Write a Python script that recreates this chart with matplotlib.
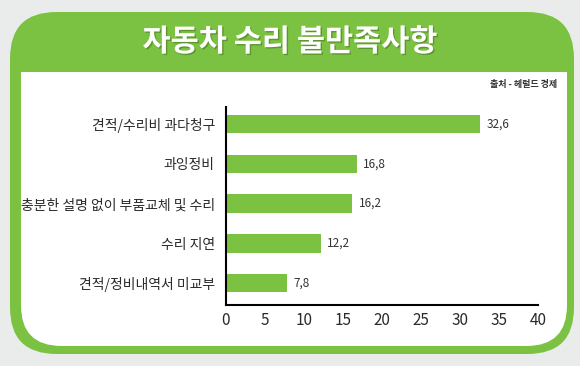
import numpy as np
import matplotlib.pyplot as plt
from matplotlib.patches import FancyBboxPatch
import matplotlib.patheffects as pe

plt.rcParams['font.family'] = ['Noto Sans CJK KR', 'DejaVu Sans']

categories = ['견적/수리비 과다청구', '과잉정비', '충분한 설명 없이 부품교체 및 수리',
              '수리 지연', '견적/정비내역서 미교부']
values = [32.6, 16.8, 16.2, 12.2, 7.8]
value_labels = ['32,6', '16,8', '16,2', '12,2', '7,8']
xticks = [0, 5, 10, 15, 20, 25, 30, 35, 40]

green = '#7cc242'
W, H = 580, 366

fig = plt.figure(figsize=(5.8, 3.66), dpi=100)
fig.patch.set_facecolor('#e9ecea')

# outer green rounded panel
panel = FancyBboxPatch((10 / W, 12 / H), 564 / W, 342 / H,
                       boxstyle='round,pad=0,rounding_size=0.08',
                       transform=fig.transFigure, facecolor=green,
                       edgecolor='none', mutation_aspect=W / H, zorder=0)
fig.add_artist(panel)
# white inner area
inner = FancyBboxPatch((21 / W, 20 / H), 546 / W, 274 / H,
                       boxstyle='round,pad=0,rounding_size=0.07',
                       transform=fig.transFigure, facecolor='white',
                       edgecolor='none', mutation_aspect=W / H, zorder=0)
fig.add_artist(inner)
fig.add_artist(plt.Rectangle((21 / W, 150 / H), 546 / W, 144 / H,
                             transform=fig.transFigure, facecolor='white',
                             edgecolor='none', zorder=0))

fig.text(290 / W, 1 - 42 / H, '자동차 수리 불만족사항', ha='center', va='center',
         fontsize=22, fontweight='bold', color='white',
         path_effects=[pe.withSimplePatchShadow(offset=(1, -1), shadow_rgbFace='#4a7a20', alpha=0.6)])
fig.text(557 / W, 1 - 85 / H, '출처 - 헤럴드 경제', ha='right', va='center',
         fontsize=6.5, fontweight='bold', color='#333333')

ax = fig.add_axes([226 / W, 1 - 305 / H, 312 / W, 198 / H], zorder=5)
ax.set_facecolor('none')
y = np.arange(len(categories))
ax.barh(y, values, height=0.47, color=green)
for yi, v, lab in zip(y, values, value_labels):
    ax.text(v + 0.8, yi, lab, va='center', ha='left', fontsize=8.5, color='#333333')
ax.set_xlim(0, 40)
ax.set_ylim(4.55, -0.43)
ax.set_yticks(y)
ax.set_yticklabels(categories, fontsize=10, fontweight='medium', color='#2a2a2a')
ax.set_xticks(xticks)
ax.set_xticklabels([str(t) for t in xticks], fontsize=11, color='#2a2a2a')
ax.tick_params(length=0, pad=5)
ax.tick_params(axis='y', pad=8)
for s in ['top', 'right']:
    ax.spines[s].set_visible(False)
for s in ['left', 'bottom']:
    ax.spines[s].set_linewidth(1.5)
    ax.spines[s].set_color('black')

fig.savefig('out.png', dpi=100)
